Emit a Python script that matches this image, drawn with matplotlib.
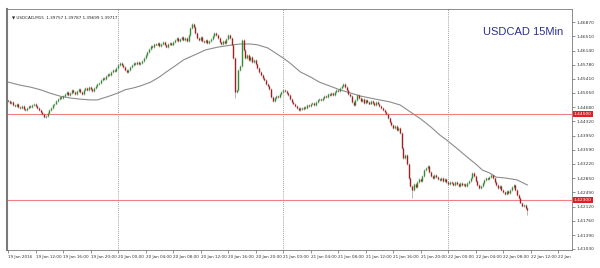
import numpy as np
import matplotlib
matplotlib.use("Agg")
import matplotlib.pyplot as plt

# USDCAD M15 closes, one per 15-minute bar from 19 Jan 08:00
closes = [
    1.4484, 1.4479, 1.4482, 1.4474, 1.4471, 1.4477, 1.4469, 1.4466, 1.4471, 1.4464, 1.4461, 1.4466,
    1.4471, 1.4469, 1.4474, 1.4477, 1.4471, 1.4466, 1.4461, 1.4456, 1.4451, 1.4443, 1.4446, 1.4453,
    1.4461, 1.4466, 1.4474, 1.4477, 1.4484, 1.4489, 1.4495, 1.4492, 1.4497,
    1.4502, 1.4507, 1.4500, 1.4505, 1.4513, 1.4507, 1.4502, 1.4510, 1.4515, 1.4507, 1.4502, 1.4513,
    1.4518, 1.4513, 1.4520, 1.4515, 1.4510, 1.4518, 1.4523, 1.4528,
    1.4531, 1.4538, 1.4543, 1.4541, 1.4549, 1.4554, 1.4551, 1.4559, 1.4564, 1.4562, 1.4569,
    1.4577, 1.4582, 1.4577, 1.4572, 1.4564, 1.4559, 1.4564, 1.4572, 1.4577, 1.4582, 1.4580, 1.4585,
    1.4580, 1.4582, 1.4587, 1.4595,
    1.4603, 1.4610, 1.4618, 1.4626, 1.4623, 1.4631, 1.4629, 1.4634, 1.4626,
    1.4631, 1.4636, 1.4629, 1.4623, 1.4631, 1.4634, 1.4629, 1.4636,
    1.4641, 1.4647, 1.4639, 1.4644, 1.4649, 1.4641, 1.4647, 1.4639,
    1.4654, 1.4672, 1.4683, 1.4675,
    1.4659, 1.4647, 1.4641, 1.4649, 1.4639,
    1.4636, 1.4641, 1.4634, 1.4639, 1.4644, 1.4652,
    1.4659, 1.4654, 1.4647,
    1.4636, 1.4631, 1.4639, 1.4634, 1.4644,
    1.4654, 1.4647, 1.4629,
    1.4595, 1.4507, 1.4513, 1.4564, 1.4574, 1.4641,
    1.4616, 1.4595, 1.4603, 1.4590, 1.4598, 1.4585, 1.4590,
    1.4580, 1.4569, 1.4559, 1.4551,
    1.4543, 1.4538, 1.4528, 1.4523, 1.4515,
    1.4495, 1.4484,
    1.4492, 1.4497, 1.4495, 1.4502,
    1.4507, 1.4513, 1.4510, 1.4505, 1.4500,
    1.4489, 1.4482, 1.4477, 1.4471,
    1.4466, 1.4461, 1.4466,
    1.4464, 1.4469, 1.4466, 1.4474, 1.4471, 1.4477, 1.4479, 1.4474, 1.4482, 1.4487, 1.4489,
    1.4487, 1.4492, 1.4497, 1.4495, 1.4502, 1.4500, 1.4505, 1.4500, 1.4507,
    1.4513, 1.4510, 1.4518, 1.4523, 1.4528, 1.4520,
    1.4513, 1.4502, 1.4497,
    1.4482, 1.4474, 1.4487, 1.4500,
    1.4492, 1.4484, 1.4489, 1.4479, 1.4487, 1.4482, 1.4477, 1.4484, 1.4479, 1.4474, 1.4482, 1.4477, 1.4471,
    1.4466, 1.4461, 1.4456, 1.4451,
    1.4440, 1.4430, 1.4422,
    1.4415, 1.4420, 1.4410, 1.4415, 1.4402,
    1.4363, 1.4337, 1.4345, 1.4322,
    1.4286, 1.4265, 1.4255,
    1.4270, 1.4263, 1.4276, 1.4283, 1.4278, 1.4291,
    1.4306, 1.4312, 1.4317,
    1.4301, 1.4291, 1.4286, 1.4294, 1.4288, 1.4283,
    1.4281, 1.4286, 1.4278, 1.4283, 1.4276, 1.4270, 1.4276,
    1.4273, 1.4268, 1.4276, 1.4270, 1.4265, 1.4273, 1.4268, 1.4270, 1.4265, 1.4273, 1.4278, 1.4286,
    1.4299, 1.4291,
    1.4278, 1.4268, 1.4260, 1.4265, 1.4273,
    1.4281, 1.4286, 1.4283, 1.4288, 1.4294, 1.4286,
    1.4276, 1.4268, 1.4260, 1.4265, 1.4255, 1.4250,
    1.4245, 1.4252, 1.4247, 1.4255,
    1.4263, 1.4268,
    1.4255, 1.4242, 1.4234,
    1.4222, 1.4214, 1.4216, 1.4209, 1.4204,
]
first_open = 1.4486
long_lows = {132: 1.4492, 235: 1.4234, 302: 1.4191}

# moving average, read at a number of bars
ma_bars = [0, 7, 13, 19, 24, 30, 36, 42, 48, 52, 59, 64, 68, 73, 77, 83, 88, 92, 97, 102,
           106, 112, 115, 122, 131, 135, 141, 145, 151, 160, 164, 170, 176, 181, 187, 193,
           199, 205, 216, 222, 228, 234, 240, 246, 251, 255, 260, 267, 272, 276, 280, 284,
           289, 296, 302]
ma_vals = [1.4533, 1.4525, 1.4520, 1.4513, 1.4505, 1.4497, 1.4492, 1.4489, 1.4487, 1.4487,
           1.4497, 1.4505, 1.4513, 1.4518, 1.4523, 1.4533, 1.4546, 1.4559, 1.4574, 1.4590,
           1.4598, 1.4610, 1.4616, 1.4623, 1.4629, 1.4631, 1.4631, 1.4629, 1.4621, 1.4595,
           1.4582, 1.4559, 1.4546, 1.4533, 1.4523, 1.4513, 1.4505, 1.4497, 1.4487, 1.4482,
           1.4474, 1.4456, 1.4438, 1.4417, 1.4397, 1.4384, 1.4366, 1.4340, 1.4322, 1.4306,
           1.4299, 1.4288, 1.4286, 1.4281, 1.4268]

levels = [1.44500, 1.42300]
yticks = [1.46870, 1.46510, 1.46140, 1.45780, 1.45410, 1.45050, 1.44680, 1.44320, 1.43950,
          1.43590, 1.43220, 1.42850, 1.42490, 1.42120, 1.41760, 1.41390, 1.41030]
xlabels = ["19 Jan 2016", "19 Jan 12:00", "19 Jan 16:00", "19 Jan 20:00", "20 Jan 00:00",
           "20 Jan 04:00", "20 Jan 08:00", "20 Jan 12:00", "20 Jan 16:00", "20 Jan 20:00",
           "21 Jan 00:00", "21 Jan 04:00", "21 Jan 08:00", "21 Jan 12:00", "21 Jan 16:00",
           "21 Jan 20:00", "22 Jan 00:00", "22 Jan 04:00", "22 Jan 08:00", "22 Jan 12:00", "22 Jan"]
day_starts = [64, 160, 256]

c = np.array(closes)
o = np.concatenate([[first_open], c[:-1]])
hi = np.maximum(o, c) + 0.00018
lo = np.minimum(o, c) - 0.00018
for k, v in long_lows.items():
    lo[k] = v
idx = np.arange(len(c))
up = c >= o

fig = plt.figure(figsize=(6, 2.68), dpi=100)
ax = fig.add_axes([0.0117, 0.0672, 0.9416, 0.8992])

ax.vlines(idx, lo, hi, color="#9a9a9a", lw=0.5, zorder=2)
ax.vlines(idx[up], o[up], c[up] + 0.00005, color="#2f8f2f", lw=1.0, zorder=3)
ax.vlines(idx[~up], c[~up], o[~up], color="#a02020", lw=1.0, zorder=3)
ax.plot(ma_bars, ma_vals, color="#8c8c8c", lw=0.8, zorder=2)

for d in day_starts:
    ax.axvline(d, color="#808080", lw=0.6, ls=(0, (1, 1.5)), zorder=1)
for lv in levels:
    ax.axhline(lv, color="#f08080", lw=0.8, zorder=1)
    ax.text(1.003, lv, "%.5f" % lv, transform=ax.get_yaxis_transform(), fontsize=3.2,
            color="white", va="center", ha="left",
            bbox=dict(boxstyle="square,pad=0.25", fc="#e02020", ec="none"))

ax.set_xlim(-0.6, 328)
ax.set_ylim(1.41004, 1.47212)

ax.yaxis.tick_right()
ax.set_yticks(yticks)
ax.set_yticklabels(["%.5f" % t for t in yticks], fontsize=3.2, color="#333333")
ax.set_xticks(np.arange(len(xlabels)) * 16)
ax.set_xticklabels(xlabels, fontsize=3.0, color="#333333", ha="left")
ax.tick_params(axis="both", length=2, width=0.5, color="#666666", pad=1.5)

for s in ax.spines.values():
    s.set_color("#7a7a7a")
    s.set_linewidth(0.6)
ax.spines["left"].set_linewidth(1.5)

ax.text(0.008, 0.975, "\u25bc USDCAD,M15  1.39757 1.39787 1.39699 1.39717", transform=ax.transAxes,
        fontsize=3.0, color="#222222", va="top", ha="left")
ax.text(0.985, 0.925, "USDCAD 15Min", transform=ax.transAxes, fontsize=8,
        color="#2b3190", va="top", ha="right", family="Liberation Sans")

fig.savefig("out.png", dpi=100)
